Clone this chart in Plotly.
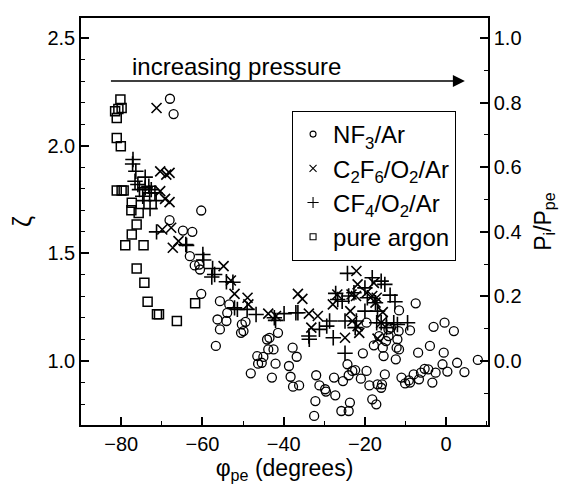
import plotly.graph_objects as go

# ---------------- data ----------------
nf3_x = [-68.0, -67.1, -60.3, -68.1, -64.8, -62.5, -63.1, -61.9, -60.8, -60.6,
         -60.3, -55.7, -53.4, -56.3, -53.9, -54.1, -55.7, -56.7, -50.3, -49.4,
         -49.9, -50.5, -48.1, -46.5, -45.4, -46.3, -45.0, -44.1, -43.5, -43.8,
         -42.5, -42.0, -41.4, -42.9, -38.7, -37.8, -36.8, -38.3, -37.7, -36.2,
         -32.0, -32.2, -32.5, -31.2, -29.8, -29.6, -27.3, -27.6, -25.8, -24.0,
         -23.7, -25.4, -24.3, -24.0, -22.4, -23.1, -20.5, -19.6, -21.0, -19.6,
         -18.9, -18.2, -17.2, -16.9, -16.0, -15.8, -15.1, -17.8, -15.6, -15.4,
         -16.5, -14.2, -13.6, -12.0, -12.2, -11.6, -12.4, -14.8, -14.2, -11.6,
         -11.7, -7.5, -8.9, -6.9, -11.0, -10.1, -9.2, -8.9, -8.0, -6.7,
         -6.2, -5.3, -4.4, -4.0, -3.4, -3.1, -2.6, -0.4, -0.6, -0.9,
         0.3, 1.9, 2.7, 4.5, 7.8]
nf3_y = [2.218, 2.147, 1.699, 1.654, 1.606, 1.600, 1.487, 1.444, 1.448, 1.425,
         1.312, 1.278, 1.263, 1.193, 1.224, 1.186, 1.147, 1.070, 1.170, 1.182,
         1.139, 1.131, 0.943, 1.023, 0.992, 0.988, 1.019, 1.100, 1.108, 1.054,
         1.054, 0.988, 1.131, 0.923, 0.977, 1.062, 1.020, 0.927, 0.881, 0.887,
         0.934, 0.814, 0.745, 0.887, 0.869, 0.858, 0.841, 0.923, 0.768, 0.768,
         0.807, 0.907, 0.985, 0.934, 0.958, 0.954, 1.036, 0.954, 0.918, 1.178,
         0.887, 0.822, 0.799, 0.892, 0.876, 0.892, 0.938, 1.073, 1.062, 1.023,
         1.116, 1.147, 1.155, 1.101, 1.062, 1.054, 1.008, 1.093, 1.116, 1.235,
         1.139, 1.268, 1.142, 1.039, 0.923, 0.896, 0.910, 0.900, 0.938, 0.915,
         0.946, 0.964, 0.961, 1.070, 0.900, 1.159, 0.946, 1.178, 1.039, 0.985,
         0.951, 1.139, 0.992, 0.949, 1.005]

c2f6_x = [-71.3, -70.4, -68.9, -68.1, -70.4, -69.2, -68.1, -69.9, -67.7, -67.3,
          -65.9, -54.8, -53.0, -52.1, -48.9, -48.7, -43.8, -41.9, -36.5, -35.4,
          -33.8, -31.6, -33.2, -27.9, -26.8, -24.9, -23.6, -22.1, -23.3, -21.8,
          -22.2, -23.1, -21.8, -21.4, -19.6, -18.2, -17.8, -17.1, -17.4, -15.6,
          -16.9, -16.0]
c2f6_y = [2.175, 1.881, 1.866, 1.874, 1.789, 1.753, 1.738, 1.611, 1.619, 1.526,
          1.557, 1.441, 1.374, 1.312, 1.294, 1.263, 1.220, 1.209, 1.312, 1.289,
          1.220, 1.209, 1.155, 1.263, 1.309, 1.108, 1.232, 1.418, 1.309, 1.356,
          1.302, 1.186, 1.162, 1.131, 1.317, 1.302, 1.363, 1.294, 1.271, 1.227,
          1.104, 1.178]

cf4_x = [-77.1, -77.2, -76.4, -74.1, -76.6, -75.9, -75.5, -74.1, -73.2, -72.6,
         -74.7, -74.4, -73.0, -71.7, -72.9, -71.4, -71.3, -64.1, -63.9, -59.7,
         -59.9, -57.5, -57.0, -57.7, -54.1, -52.5, -52.1, -51.4, -49.0, -46.8,
         -42.3, -42.0, -39.9, -37.0, -36.5, -33.8, -33.7, -31.2, -29.4, -28.7,
         -27.8, -27.2, -26.7, -25.6, -24.3, -24.9, -24.0, -24.9, -22.7, -22.1,
         -22.4, -20.0, -20.0, -19.4, -18.2, -17.4, -16.9, -16.0, -15.1, -17.1,
         -16.0, -14.7, -13.8, -12.6, -12.9, -12.0, -9.5, -14.7]
cf4_y = [1.936, 1.915, 1.881, 1.854, 1.835, 1.820, 1.796, 1.804, 1.812, 1.796,
         1.765, 1.745, 1.781, 1.781, 1.708, 1.745, 1.600, 1.541, 1.537, 1.469,
         1.495, 1.430, 1.402, 1.390, 1.368, 1.366, 1.247, 1.240, 1.240, 1.216,
         1.201, 1.189, 1.220, 1.224, 1.224, 1.116, 1.101, 1.147, 1.162, 1.186,
         1.108, 1.314, 1.286, 1.278, 1.407, 1.036, 1.302, 1.186, 1.317, 1.186,
         1.155, 1.340, 1.232, 1.294, 1.387, 1.271, 1.232, 1.371, 1.356, 1.178,
         1.178, 1.178, 1.306, 1.275, 1.178, 1.170, 1.178, 1.155]

argon_x = [-80.2, -80.7, -81.5, -81.1, -79.9, -81.1, -80.1, -81.1, -79.9, -79.4,
           -77.4, -77.5, -75.7, -76.2, -77.4, -79.0, -74.5, -76.2, -74.3, -73.5,
           -71.2, -70.7, -66.3, -61.8]
argon_y = [2.214, 2.171, 2.160, 2.129, 2.175, 2.036, 1.998, 1.792, 1.792, 1.792,
           1.735, 1.700, 1.688, 1.634, 1.588, 1.538, 1.538, 1.430, 1.364, 1.275,
           1.217, 1.217, 1.186, 1.268]

series_names = ["NF<sub>3</sub>/Ar", "C<sub>2</sub>F<sub>6</sub>/O<sub>2</sub>/Ar",
                "CF<sub>4</sub>/O<sub>2</sub>/Ar", "pure argon"]

x_range = [-89.9, 10.3]
y_range = [0.703, 2.593]
# right axis: P_i/P_pe = (zeta - 1) / 1.5
y2_range = [(y_range[0] - 1.0) / 1.5, (y_range[1] - 1.0) / 1.5]

arrow_x0, arrow_x1, arrow_y = -82.9, 4.6, 2.30
label_x, label_y = -51.6, 2.37

FONT = "Liberation Sans, Arial, Helvetica, sans-serif"

# ---------------- figure ----------------
fig = go.Figure()

styles = [
    dict(symbol="circle-open", size=9, line=dict(width=1.3, color="black")),
    dict(symbol="x-thin-open", size=10, line=dict(width=1.6, color="black")),
    dict(symbol="cross-thin-open", size=11, line=dict(width=1.6, color="black")),
    dict(symbol="square-open", size=9, line=dict(width=1.5, color="black")),
]
data = [(nf3_x, nf3_y), (c2f6_x, c2f6_y), (cf4_x, cf4_y), (argon_x, argon_y)]

for (xs, ys), st in zip(data, styles):
    fig.add_trace(go.Scatter(x=xs, y=ys, mode="markers", marker=dict(color="black", **st),
                             showlegend=False, hoverinfo="skip"))

# legend entries with smaller symbols
legend_sizes = [6, 7, 8, 6]
for name, st, sz in zip(series_names, styles, legend_sizes):
    st2 = dict(st)
    st2["size"] = sz
    st2["line"] = dict(width=1.1, color="black")
    fig.add_trace(go.Scatter(x=[None], y=[None], mode="markers", name=name,
                             marker=dict(color="black", **st2)))

# invisible trace to activate right axis
fig.add_trace(go.Scatter(x=[None], y=[None], yaxis="y2", showlegend=False))

fig.add_annotation(x=arrow_x1, y=arrow_y, ax=arrow_x0, ay=arrow_y,
                   xref="x", yref="y", axref="x", ayref="y",
                   text="", showarrow=True, arrowhead=2, arrowsize=1.6,
                   arrowwidth=1.5, arrowcolor="black")
fig.add_annotation(x=label_x, y=label_y, xref="x", yref="y", text="increasing pressure",
                   showarrow=False, font=dict(size=24, family=FONT, color="black"))

axis_common = dict(showline=True, linecolor="black", linewidth=1.5, ticks="inside",
                   tickcolor="black", tickwidth=1.5, ticklen=8, showgrid=False,
                   zeroline=False, automargin=False,
                   tickfont=dict(size=20, family=FONT, color="black"))

fig.update_layout(
    width=569, height=487,
    margin=dict(l=73, r=89, t=10, b=70),
    paper_bgcolor="white", plot_bgcolor="white",
    font=dict(family=FONT, color="black"),
    xaxis=dict(range=x_range, dtick=20, tick0=0, mirror=True,
               minor=dict(dtick=10, ticks="inside", ticklen=4, tickcolor="black", tickwidth=1.2),
               title=dict(text="φ<sub>pe</sub> (degrees)", font=dict(size=23, family=FONT), standoff=6),
               **axis_common),
    yaxis=dict(range=y_range, dtick=0.5, tick0=0, tickformat=".1f", mirror=True,
               minor=dict(dtick=0.1, ticks="inside", ticklen=4, tickcolor="black", tickwidth=1.2),
               title=dict(text="ζ", font=dict(size=25, family=FONT), standoff=12),
               **axis_common),
    yaxis2=dict(range=y2_range, dtick=0.2, tick0=0, tickformat=".1f", overlaying="y",
                side="right",
                minor=dict(dtick=0.1, ticks="inside", ticklen=4, tickcolor="black", tickwidth=1.2),
                title=dict(text="P<sub>i</sub>/P<sub>pe</sub>", font=dict(size=23, family=FONT), standoff=14),
                **axis_common),
    legend=dict(x=0.921, y=0.772, xanchor="right", yanchor="top",
                bordercolor="black", borderwidth=1.2, bgcolor="white",
                font=dict(size=24, family=FONT, color="black"),
                tracegroupgap=0),
)

fig.write_html("out.html")
